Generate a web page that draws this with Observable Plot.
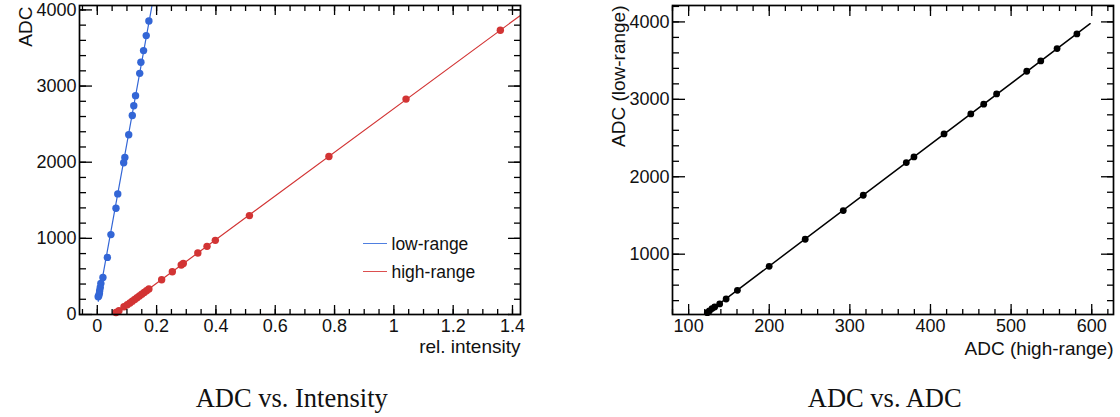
<!DOCTYPE html>
<html><head><meta charset="utf-8">
<script src="https://cdn.jsdelivr.net/npm/d3@7"></script>
<script src="https://cdn.jsdelivr.net/npm/@observablehq/plot@0.6"></script>
<style>
html,body{margin:0;padding:0;background:#fff;}
#root{position:relative;width:1120px;height:417px;overflow:hidden;font-family:'Liberation Sans',Arial,sans-serif;}
.panel{position:absolute;top:0;}
.caption{position:absolute;font-family:'Liberation Serif','Times New Roman',serif;font-size:26.5px;line-height:26.5px;white-space:nowrap;transform:translateX(-50%);color:#111;}
.leg-line{position:absolute;height:0;border-top:1.4px solid;}
.leg-text{position:absolute;font-size:17.5px;line-height:17.5px;color:#111;white-space:nowrap;}
</style></head><body><div id="root"></div>
<script>
// ---- data: ADC vs. Intensity ----
const lowIntensity = [0.003,0.005,0.007,0.008,0.010,0.012,0.019,0.034,0.046,0.063,0.069,0.089,0.093,0.106,0.118,0.123,0.129,0.143,0.147,0.156,0.165,0.174];
const lowADC       = [233,246,276,312,355,408,487,750,1049,1395,1584,1992,2062,2361,2614,2742,2874,3167,3312,3466,3663,3855];
const highIntensity = [0.063,0.073,0.090,0.101,0.110,0.118,0.126,0.134,0.142,0.150,0.158,0.166,0.174,0.217,0.253,0.283,0.290,0.339,0.370,0.398,0.513,0.781,1.041,1.359];
const highADC       = [26,49,101,128,152,175,198,220,243,266,289,311,334,457,562,650,670,808,895,974,1299,2075,2829,3733];
// ---- data: ADC vs. ADC ----
const pairHighADC = [123.2,125.7,129.0,132.3,138.5,146.5,160.5,199.9,244.6,291.8,316.6,370.0,379.5,416.8,450.0,466.0,482.0,519.4,536.8,557.0,581.6];
const pairLowADC  = [245,266,297,318,357,421,533,843,1193,1563,1761,2183,2256,2553,2811,2937,3070,3363,3496,3656,3845];
// ---- series / labels ----
const seriesNames = ["low-range","high-range"];
const seriesColors = ["#3366d6","#d23434"];
const legendColors = ["#4f7fe0","#dc4f4f"];
const captions = ["ADC vs. Intensity","ADC vs. ADC"];
const leftXLabel = "rel. intensity", leftYLabel = "ADC";
const rightXLabel = "ADC (high-range)", rightYLabel = "ADC (low-range)";
const leftXTicks = [0,0.2,0.4,0.6,0.8,1,1.2,1.4];
const leftYTicks = [0,1000,2000,3000,4000];
const rightXTicks = [100,200,300,400,500,600];
const rightYTicks = [1000,2000,3000,4000];
const leftXDomain = [-0.06,1.427], leftYDomain = [0,4058];
const rightXDomain = [80,627], rightYDomain = [221,4212];
const lowFitRange = [0.003,0.2], highFitRange = [0.06,1.45], pairFitRange = [122,598];

const leftXMinor = d3.range(-0.05,1.43,0.05);
const leftYMinor = d3.range(200,4060,200);
const rightXMinor = d3.range(80,627,20);
const rightYMinor = d3.range(400,4212,200);

function linFit(xs, ys, range){
  const mx=d3.mean(xs), my=d3.mean(ys); let sxy=0,sxx=0;
  for(let i=0;i<xs.length;i++){sxy+=(xs[i]-mx)*(ys[i]-my);sxx+=(xs[i]-mx)**2;}
  const b=sxy/sxx, a=my-b*mx;
  return range.map(x=>({x, y:a+b*x}));
}
const zip=(xs,ys)=>xs.map((x,i)=>({x,y:ys[i]}));

const INK="#111";
function frameAxes(xMaj,xMin,yMaj,yMin,xFmt,yFmt,xt,yt){
  const t=(o)=>({label:null, fill:"none", stroke:"#000", strokeWidth:1.3, ...o});
  return [
    Plot.axisX(xMin, t({anchor:"bottom", tickSize:-xt[1]})),
    Plot.axisX(xMaj, t({anchor:"bottom", tickSize:-xt[0]})),
    Plot.axisX(xMin, t({anchor:"top", tickSize:-xt[1]})),
    Plot.axisX(xMaj, t({anchor:"top", tickSize:-xt[0]})),
    Plot.axisY(yMin, t({anchor:"left", tickSize:-yt[1]})),
    Plot.axisY(yMaj, t({anchor:"left", tickSize:-yt[0]})),
    Plot.axisY(yMin, t({anchor:"right", tickSize:-yt[1]})),
    Plot.axisY(yMaj, t({anchor:"right", tickSize:-yt[0]})),
    Plot.axisX(xMaj, {anchor:"bottom", tickSize:0, tickPadding:5, label:null, tickFormat:xFmt, fontSize:18, fill:INK}),
    Plot.axisY(yMaj, {anchor:"left", tickSize:0, tickPadding:3, label:null, tickFormat:yFmt, fontSize:18, fill:INK}),
    Plot.frame({stroke:"#000", strokeWidth:1.7})
  ];
}
const fmtX1 = d => String(+d.toFixed(1));
const fmtInt = d => String(d);

const root=document.getElementById("root");

const left = Plot.plot({
  width:560, height:365, marginLeft:79, marginRight:40, marginTop:5, marginBottom:51,
  x:{domain:leftXDomain}, y:{domain:leftYDomain},
  style:{fontFamily:"'Liberation Sans',Arial,sans-serif", fontSize:"18px", background:"transparent", overflow:"visible", color:INK},
  marks:[
    Plot.line(linFit(lowIntensity,lowADC,lowFitRange),{x:"x",y:"y",stroke:seriesColors[0],strokeWidth:1.2,clip:true}),
    Plot.line(linFit(highIntensity,highADC,highFitRange),{x:"x",y:"y",stroke:seriesColors[1],strokeWidth:1.2,clip:true}),
    Plot.dot(zip(lowIntensity,lowADC),{x:"x",y:"y",r:3.7,fill:seriesColors[0],stroke:"none"}),
    Plot.dot(zip(highIntensity,highADC),{x:"x",y:"y",r:3.7,fill:seriesColors[1],stroke:"none"}),
    ...frameAxes(leftXTicks,leftXMinor,leftYTicks,leftYMinor,fmtX1,fmtInt,[9,5],[13,7]),
    Plot.text([leftXLabel],{text:d=>d,frameAnchor:"bottom-right",textAnchor:"end",dy:38,fontSize:19,fill:INK}),
    Plot.text([leftYLabel],{text:d=>d,frameAnchor:"top-left",textAnchor:"end",rotate:-90,dx:-61,dy:1,fontSize:19,fill:INK})
  ]
});
left.classList.add("panel"); left.style.left="0px";
root.appendChild(left);

const right = Plot.plot({
  width:560, height:365, marginLeft:112, marginRight:7, marginTop:5, marginBottom:51,
  x:{domain:rightXDomain}, y:{domain:rightYDomain},
  style:{fontFamily:"'Liberation Sans',Arial,sans-serif", fontSize:"18px", background:"transparent", overflow:"visible", color:INK},
  marks:[
    Plot.line(linFit(pairHighADC,pairLowADC,pairFitRange),{x:"x",y:"y",stroke:"#000",strokeWidth:1.5,clip:true}),
    Plot.dot(zip(pairHighADC,pairLowADC),{x:"x",y:"y",r:3.4,fill:"#000",stroke:"none"}),
    ...frameAxes(rightXTicks,rightXMinor,rightYTicks,rightYMinor,fmtInt,fmtInt,[10,5],[13,7]),
    Plot.text([rightXLabel],{text:d=>d,frameAnchor:"bottom-right",textAnchor:"end",dy:40,fontSize:19,fill:INK}),
    Plot.text([rightYLabel],{text:d=>d,frameAnchor:"top-left",textAnchor:"end",rotate:-90,dx:-61,dy:0,fontSize:19,fill:INK})
  ]
});
right.classList.add("panel"); right.style.left="560px";
root.appendChild(right);

// legend (inside left frame)
const legY=[243.5,271.5];
seriesNames.forEach((name,i)=>{
  const ln=document.createElement("div"); ln.className="leg-line";
  ln.style.left="363px"; ln.style.width="24px"; ln.style.top=(legY[i]-0.7)+"px"; ln.style.borderTopColor=legendColors[i];
  root.appendChild(ln);
  const tx=document.createElement("div"); tx.className="leg-text"; tx.textContent=name;
  tx.style.left="391.5px"; tx.style.top=(legY[i]+7.5-14.8)+"px";
  root.appendChild(tx);
});
// captions
const capX=[291.7,884.7];
captions.forEach((c,i)=>{
  const d=document.createElement("div"); d.className="caption"; d.textContent=c;
  d.style.left=capX[i]+"px"; d.style.top="384.8px";
  root.appendChild(d);
});
</script></body></html>
